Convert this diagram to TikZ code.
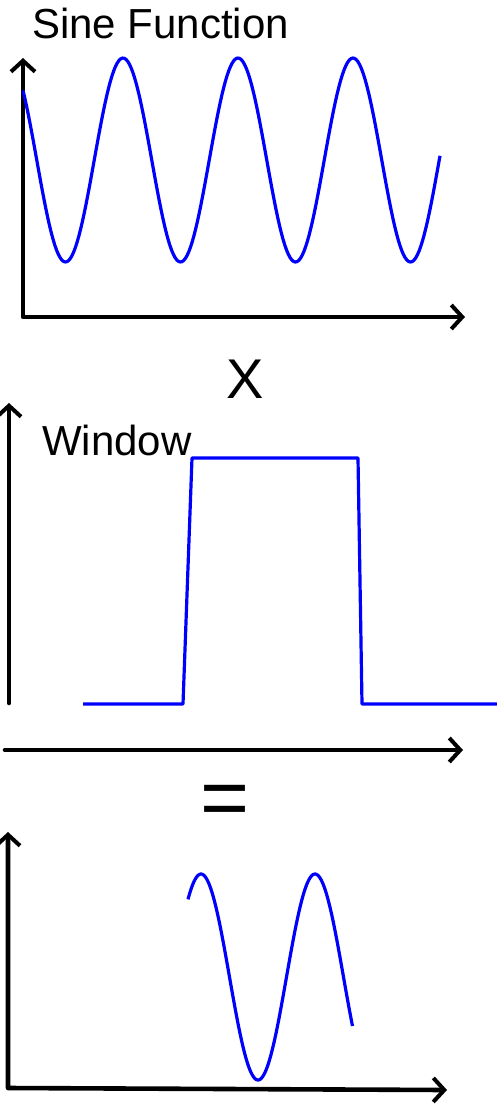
\documentclass[tikz,border=0pt]{standalone}
\usepackage{fontspec}
\setmainfont{Liberation Sans}
\usetikzlibrary{arrows.meta}

\tikzset{
  axis/.style={line width=4.6pt, line cap=round, line join=round},
  tip/.style={-{Straight Barb[length=11pt,width=24pt,line width=4pt]}},
  both/.style={{Straight Barb[length=11pt,width=24pt,line width=4pt]}-{Straight Barb[length=11pt,width=24pt,line width=4pt]}},
  sig/.style={blue, line width=3.2pt, line join=round},
  lbl/.style={inner sep=0pt, anchor=base west, font=\fontsize{42}{50}\selectfont}
}

\begin{document}
\begin{tikzpicture}[x=1pt, y=-1pt]
  \useasboundingbox (0,0) rectangle (497,1104);

  % sine function panel
  \coordinate (yt1) at (23,58);
  \coordinate (O1) at (23,317);
  \coordinate (xe1) at (465,317);
  \draw[axis, both] (yt1) -- (O1) -- (xe1);
  \draw[sig] plot[domain=23:440, samples=240] (\x, {160-102*cos((\x-123)*(360/115))});
  \node[lbl] (sine) at (32,38) {Sine Function};

  \node[inner sep=0pt, anchor=base, font=\fontsize{56}{60}\selectfont] (times) at (245,398) {X};

  % window panel
  \coordinate (yb2) at (9,703);
  \coordinate (yt2) at (9,403);
  \coordinate (xs2) at (5,750);
  \coordinate (xe2) at (463,750);
  \draw[axis, tip] (yb2) -- (yt2);
  \draw[axis, tip] (xs2) -- (xe2);
  \draw[sig] (83,704) -- (183,704) -- (192,458) -- (358,458) -- (362,704) -- (497,704);
  \node[lbl] (window) at (42,455) {Window};

  \node[inner sep=0pt, anchor=base, font=\fontsize{84}{90}\selectfont] (equals) at (225,826) {=};

  % product panel
  \coordinate (yt3) at (8,832);
  \coordinate (O3) at (8,1088);
  \coordinate (xe3) at (447,1090);
  \draw[axis, both] (yt3) -- (O3) -- (xe3);
  \draw[sig] plot[domain=188:352.5, samples=160] (\x, {977-103*cos((\x-201)*(360/114))});
\end{tikzpicture}
\end{document}
